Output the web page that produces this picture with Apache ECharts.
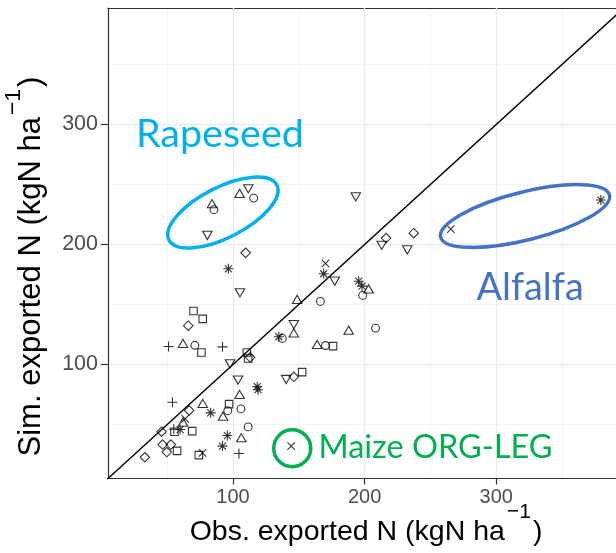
<!DOCTYPE html>
<html>
<head>
<meta charset="utf-8">
<script src="https://cdn.jsdelivr.net/npm/echarts@6/dist/echarts.min.js"></script>
<style>
html, body { margin: 0; padding: 0; background: #fff; }
#main { width: 616px; height: 553px; }
</style>
</head>
<body>
<div id="main"></div>
<script>
// [observed, simulated] exported N, one list per point shape
var squarePts = [[70, 144.5], [77, 138], [76, 110], [110.5, 110], [111.5, 105], [97, 67],
    [69, 44.5], [55.5, 44], [57.5, 28], [74, 24.5], [176, 115.3], [152.5, 93.6]];
var circlePts = [[71, 116], [85.5, 229], [115.7, 238.6], [96, 61.5], [106, 63], [111.5, 48],
    [137.5, 121.7], [166.4, 152.5], [170.2, 115.8], [198.5, 157.5], [208.3, 130.3]];
var triUpPts = [[62, 117.5], [84, 234], [105, 242.5], [105, 75], [92.4, 57], [77, 67.5],
    [106.3, 39], [62, 52], [148.7, 154.2], [146.2, 126.4], [163.9, 116.7], [187.9, 128.6], [203, 163]];
var triDownPts = [[80.5, 207.5], [111.6, 246.4], [105.3, 159.7], [97.7, 100.5], [103.8, 87],
    [177.3, 169.4], [146.2, 133.3], [140.4, 87.5], [193.3, 239.7], [213, 199.3], [232.4, 195.5]];
var diamondPts = [[109.6, 193], [66, 132.3], [113, 106], [66.7, 61.7], [45.7, 44], [46.5, 33.3],
    [52.8, 33.3], [49.7, 27], [33, 22.7], [146.2, 89.7], [216.3, 205.3], [237.3, 209.4]];
var plusPts = [[51, 115], [92, 114.7], [54, 68.5], [55, 46], [104.5, 25.8]];
var crossPts = [[63.6, 54.7], [76.8, 26.4], [144.2, 31.9], [170.2, 184.2], [265.5, 212.8]];
var starPts = [[96.5, 179.7], [118.4, 81.5], [119, 79], [83, 59.7], [59.8, 45.8], [95.7, 40.8],
    [92, 32], [134.8, 123.1], [168.9, 175.6], [195.5, 169.4], [198, 165.3], [379.5, 237]];

var oneToOne = [[0, 0], [400, 400]];
var majorTicks = [100, 200, 300];
var minorTicks = [50, 150, 250, 350];
var axisMin = 5, xMax = 391, yMax = 397;
var xTitle = ['Obs. exported N (kgN ha', '\u22121', ')'];
var yTitle = ['Sim. exported N (kgN ha', '\u22121', ')'];

var dom = document.getElementById('main');
var myChart = echarts.init(dom);

function shapeSeries(name, data, symbol, size, rotate) {
    return {
        name: name,
        type: 'scatter',
        xAxisIndex: 1,
        yAxisIndex: 1,
        data: data,
        symbol: symbol,
        symbolSize: size,
        symbolRotate: rotate || 0,
        itemStyle: { color: 'rgba(0,0,0,0)', borderColor: '#000', borderWidth: 1.1 },
        emphasis: { disabled: true },
        silent: true,
        z: 3
    };
}

var tickFont = 'Liberation Sans';

option = {
    animation: false,
    backgroundColor: '#fff',
    grid: { left: 108, top: 8, width: 510, height: 470.5 },
    xAxis: [
        {   // minor grid + top border
            type: 'value', min: axisMin, max: xMax, position: 'top', z: 0,
            axisLine: { show: true, onZero: false, lineStyle: { color: '#333', width: 1.2 } },
            axisTick: { show: false, customValues: minorTicks },
            axisLabel: { show: false },
            splitLine: { show: true, lineStyle: { color: '#F3F3F3', width: 0.9 } }
        },
        {
            type: 'value', min: axisMin, max: xMax, position: 'bottom', z: 1,
            axisLine: { show: true, onZero: false, lineStyle: { color: '#333', width: 1.2 } },
            axisTick: { show: true, length: 6, customValues: majorTicks, lineStyle: { color: '#333', width: 1.2 } },
            axisLabel: { customValues: majorTicks, fontSize: 20, fontFamily: tickFont, color: '#4D4D4D', margin: 9 },
            splitLine: { show: true, lineStyle: { color: '#EBEBEB', width: 1.4 } }
        }
    ],
    yAxis: [
        {
            type: 'value', min: axisMin, max: yMax, position: 'right', z: 0,
            axisLine: { show: false },
            axisTick: { show: false, customValues: minorTicks },
            axisLabel: { show: false },
            splitLine: { show: true, lineStyle: { color: '#F3F3F3', width: 0.9 } }
        },
        {
            type: 'value', min: axisMin, max: yMax, position: 'left', z: 1,
            axisLine: { show: true, onZero: false, lineStyle: { color: '#333', width: 1.2 } },
            axisTick: { show: true, length: 7, customValues: majorTicks, lineStyle: { color: '#333', width: 1.2 } },
            axisLabel: { customValues: majorTicks, fontSize: 21.5, fontFamily: tickFont, color: '#4D4D4D', margin: 10 },
            splitLine: { show: true, lineStyle: { color: '#EBEBEB', width: 1.4 } }
        }
    ],
    series: [
        {
            name: '1:1', type: 'line', xAxisIndex: 1, yAxisIndex: 1,
            data: oneToOne, symbol: 'none', clip: true, silent: true, z: 2,
            lineStyle: { color: '#000', width: 1.4 }
        },
        shapeSeries('square', squarePts, 'rect', 7.5),
        shapeSeries('circle', circlePts, 'circle', 7.8),
        shapeSeries('triangle', triUpPts, 'triangle', [9.5, 8.2]),
        shapeSeries('triangle down', triDownPts, 'triangle', [9.5, 8.2], 180),
        shapeSeries('diamond', diamondPts, 'diamond', 9.5),
        shapeSeries('plus', plusPts, 'path://M0,5L10,5M5,0L5,10', 10),
        shapeSeries('cross', crossPts, 'path://M0,0L10,10M0,10L10,0', 7.5),
        shapeSeries('asterisk', starPts, 'path://M0,5L10,5M5,0L5,10M1.5,1.5L8.5,8.5M1.5,8.5L8.5,1.5', 10)
    ]
};
myChart.setOption(option);

// annotations, anchored in data units
var rapeseedNote = { text: 'Rapeseed', at: [26.2, 280.4], color: '#00B0F0', size: 39.5 };
var alfalfaNote = { text: 'Alfalfa', at: [285, 153.1], color: '#4472C4', size: 37.8 };
var maizeNote = { text: 'Maize ORG-LEG', at: [164.9, 21.8], color: '#00B050', size: 32.5 };
var rapeseedRing = { at: [92.3, 226.6], rx: 60.5, ry: 25.2, angle: 27, color: '#00B0F0' };
var alfalfaRing = { at: [321.9, 223.7], rx: 87, ry: 24, angle: 14, color: '#4472C4' };
var maizeRing = { at: [145, 30.2], rx: 18.5, ry: 18.5, angle: 0, color: '#00B050' };

function toPx(p) {
    return myChart.convertToPixel({ seriesIndex: 0 }, p);
}
function noteText(n) {
    var p = toPx(n.at);
    return {
        type: 'text', x: p[0], y: p[1] - 0.34 * n.size, silent: true, z: 10,
        style: { text: n.text, fill: n.color, fontFamily: 'Lato', fontSize: n.size,
            align: 'left', verticalAlign: 'middle' }
    };
}
function ring(r) {
    var p = toPx(r.at);
    return {
        type: 'ellipse', x: p[0], y: p[1], rotation: r.angle * Math.PI / 180, silent: true, z: 10,
        shape: { cx: 0, cy: 0, rx: r.rx, ry: r.ry },
        style: { fill: 'none', stroke: r.color, lineWidth: 3.5 }
    };
}

// axis title: main text, raised "-1" exponent, closing bracket
var ctx = document.createElement('canvas').getContext('2d');
function textWidth(text, size) {
    ctx.font = size + 'px "' + tickFont + '"';
    return ctx.measureText(text).width;
}
function axisTitle(parts, size, x, baseline, rotation, raise) {
    var sup = size * 0.74;
    var mid = 0.3465;   // middle line -> alphabetic baseline, in em
    var w1 = textWidth(parts[0], size);
    var w2 = textWidth(parts[1], sup);
    var w3 = textWidth(parts[2], size);
    var gap = 2;
    var x0 = -(w1 + gap + w2 + gap + w3) / 2;
    function piece(text, fs, px, py) {
        return {
            type: 'text', x: px, y: py, silent: true,
            style: { text: text, fontFamily: tickFont, fontSize: fs, fill: '#000',
                align: 'left', verticalAlign: 'middle' }
        };
    }
    var b = mid * size;
    return {
        type: 'group', silent: true, rotation: rotation,
        x: rotation ? baseline - b : x,
        y: rotation ? x : baseline - b,
        children: [
            piece(parts[0], size, x0, 0),
            piece(parts[1], sup, x0 + w1 + gap, b - raise * size - mid * sup),
            piece(parts[2], size, x0 + w1 + gap + w2 + gap, 0)
        ]
    };
}

myChart.setOption({
    graphic: [
        axisTitle(xTitle, 28.5, 366, 541.7, 0, 0.78),
        axisTitle(yTitle, 31, 266.5, 41.7, Math.PI / 2, 0.65),
        noteText(rapeseedNote),
        noteText(alfalfaNote),
        noteText(maizeNote),
        ring(rapeseedRing),
        ring(alfalfaRing),
        ring(maizeRing)
    ]
});
</script>
</body>
</html>
